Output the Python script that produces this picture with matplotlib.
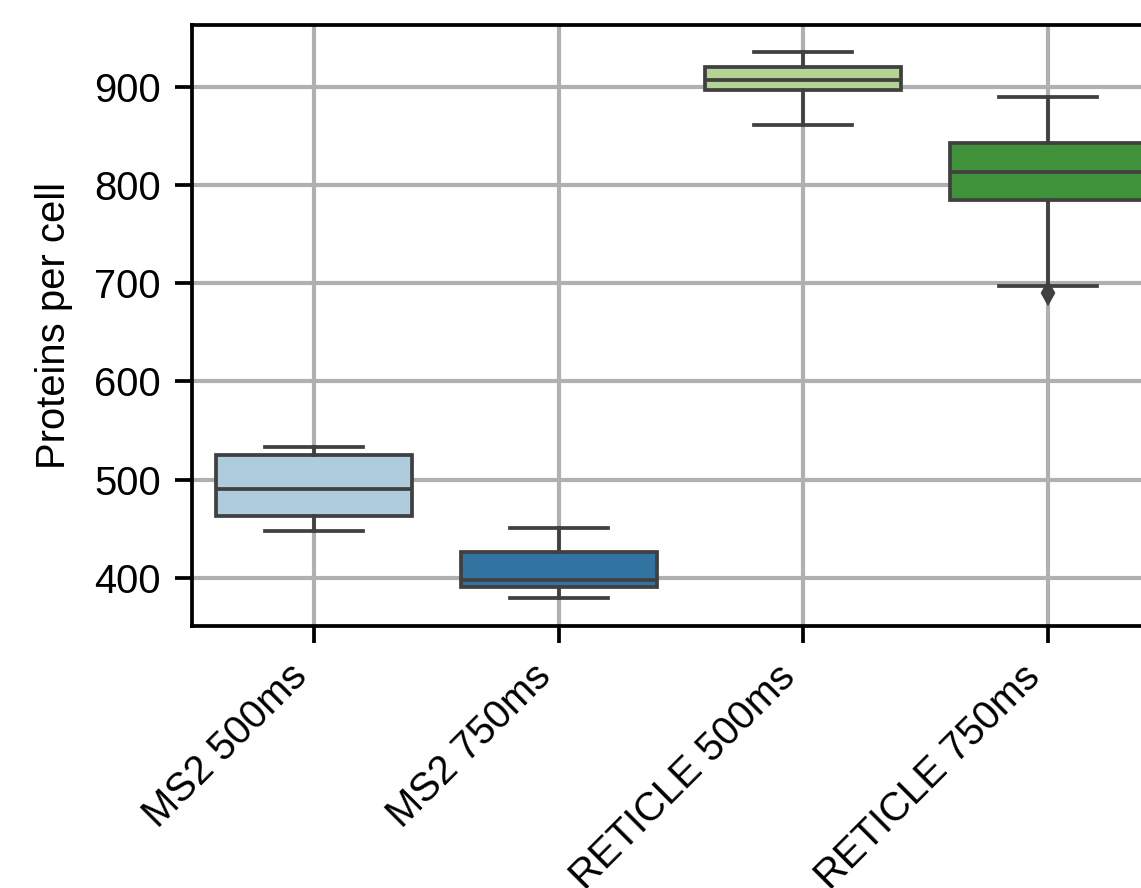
import matplotlib
matplotlib.use('Agg')
import matplotlib.pyplot as plt
import seaborn as sns

# values
labels = ['MS2 500ms', 'MS2 750ms', 'RETICLE 500ms', 'RETICLE 750ms']
whislo = [448, 380, 861, 697]
q1 = [463, 391, 897, 785]
med = [490, 398, 907, 813]
q3 = [525, 426, 920, 843]
whishi = [533, 451, 935, 890]
fliers = [[], [], [], [690]]

palette = sns.color_palette('Paired', 4)
colors = [sns.desaturate(c, 0.75) for c in palette]

plt.rcParams['font.family'] = ['Liberation Sans', 'DejaVu Sans']
plt.rcParams['font.size'] = 9.6

dpi = 300
fig = plt.figure(figsize=(1141 / dpi, 888 / dpi), dpi=dpi)
ax = fig.add_axes([192 / 1141, 1 - 626 / 888, (1170 - 192) / 1141, 601 / 888])

stats = []
for i, lab in enumerate(labels):
  stats.append(dict(label=lab, whislo=whislo[i], q1=q1[i], med=med[i],
                    q3=q3[i], whishi=whishi[i], fliers=fliers[i]))

gray = '0.25'
lw = 0.9
bp = ax.bxp(stats, positions=range(len(labels)), widths=0.8, patch_artist=True,
            boxprops=dict(edgecolor=gray, linewidth=lw),
            whiskerprops=dict(color=gray, linewidth=lw),
            capprops=dict(color=gray, linewidth=lw, zorder=3),
            medianprops=dict(color=gray, linewidth=lw),
            flierprops=dict(marker='d', markerfacecolor=gray, markeredgecolor=gray,
                            markersize=3, linestyle='none', zorder=2))
for patch, c in zip(bp['boxes'], colors):
  patch.set_facecolor(c)
for cap in bp['caps']:
  x = cap.get_xdata()
  mid = (x[0] + x[1]) / 2
  cap.set_xdata([mid - 0.2, mid + 0.2])

ax.set_xlim(-0.5, 3.5)
ax.set_ylim(351, 963)
ax.set_yticks([400, 500, 600, 700, 800, 900])
ax.set_xticks(range(len(labels)))
ax.set_xticklabels(labels, rotation=45, ha='right')
ax.set_ylabel('Proteins per cell', labelpad=5)
ax.set_axisbelow(True)
ax.grid(True, color='#b0b0b0', linewidth=1.0)
ax.tick_params(length=4, width=0.9)
for s in ax.spines.values():
  s.set_linewidth(0.9)

fig.savefig('out.png', dpi=dpi)
